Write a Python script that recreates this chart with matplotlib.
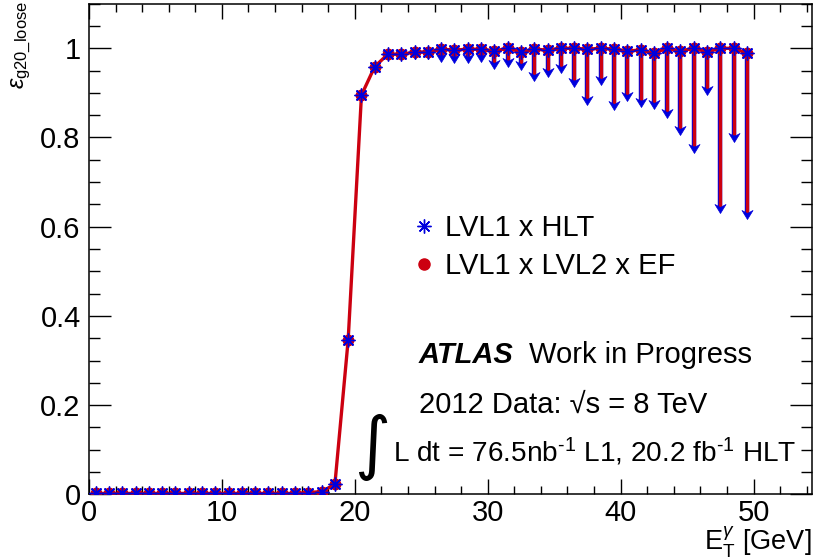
import matplotlib
matplotlib.use("Agg")
import matplotlib.pyplot as plt
from matplotlib.lines import Line2D
from matplotlib.path import Path
import numpy as np

# ---------------- data ----------------
et_bins = np.arange(0.5, 50.0, 1.0)  # bin centres (GeV)

eff_ef = [0.002, 0.002, 0.002, 0.002, 0.002, 0.002, 0.002, 0.002, 0.002, 0.002,
          0.002, 0.002, 0.002, 0.002, 0.002, 0.002, 0.004, 0.006, 0.022, 0.346,
          0.895, 0.959, 0.987, 0.987, 0.991, 0.992, 0.998, 0.996, 0.998, 0.998,
          0.994, 1.000, 0.992, 0.998, 0.996, 1.000, 1.000, 0.998, 1.000, 0.998,
          0.994, 0.996, 0.989, 1.000, 0.994, 1.000, 0.992, 1.000, 1.000, 0.989]
eff_hlt = list(eff_ef)

lower_end = [0.002, 0.002, 0.002, 0.002, 0.002, 0.002, 0.002, 0.002, 0.002, 0.002,
             0.002, 0.002, 0.002, 0.002, 0.002, 0.002, 0.004, 0.006, 0.022, 0.346,
             0.895, 0.959, 0.974, 0.975, 0.975, 0.975, 0.970, 0.966, 0.966, 0.970,
             0.953, 0.959, 0.951, 0.927, 0.935, 0.944, 0.914, 0.873, 0.918, 0.862,
             0.882, 0.869, 0.863, 0.844, 0.806, 0.766, 0.895, 0.631, 0.791, 0.617]

x_major = [0, 10, 20, 30, 40, 50]
y_major = [0, 0.2, 0.4, 0.6, 0.8, 1.0]
y_labels = ["0", "0.2", "0.4", "0.6", "0.8", "1"]

label_hlt = "LVL1 x HLT"
label_ef = "LVL1 x LVL2 x EF"

# ---------------- style ----------------
plt.rcParams['font.family'] = ['Liberation Sans', 'DejaVu Sans']
plt.rcParams['mathtext.fontset'] = 'custom'
plt.rcParams['mathtext.rm'] = 'Liberation Sans'
plt.rcParams['mathtext.it'] = 'Liberation Sans:italic'
plt.rcParams['mathtext.bf'] = 'Liberation Sans:bold'

RED = "#cc0010"
BLUE = "#0000dd"
FS = 21

fig = plt.figure(figsize=(8.17, 5.58), dpi=100)
W, H = 817, 558
ax = fig.add_axes([89 / W, (H - 494.3) / H, (812 - 89) / W, (494.3 - 3.7) / H])

x = np.asarray(et_bins)
yef = np.asarray(eff_ef)
yhlt = np.asarray(eff_hlt)
low = np.asarray(lower_end)
has_arrow = (yef - low) > 0.004

# arrow-head marker with the tip at the anchor point
head = Path([(-0.55, 0.9), (0.0, 0.6), (0.55, 0.9), (0.0, 0.0), (-0.55, 0.9)],
            [Path.MOVETO, Path.LINETO, Path.LINETO, Path.LINETO, Path.CLOSEPOLY])

# HLT series (blue) with arrows
ax.vlines(x[has_arrow], low[has_arrow] + 0.01, yhlt[has_arrow], color=BLUE, lw=3.2, zorder=2)
ax.plot(x[has_arrow], low[has_arrow], ls='none', marker=head, ms=13,
        color=BLUE, mec=BLUE, mew=0.5, zorder=5)
# EF series (red) line + error shafts
ax.plot(x, yef, color=RED, lw=2.4, zorder=3)
ax.vlines(x[has_arrow], low[has_arrow] + 0.014, yef[has_arrow], color=RED, lw=2.4, zorder=4)
ax.plot(x, yef, ls='none', marker='o', ms=7.5, color=RED, mec=RED, zorder=6)
ax.plot(x, yhlt, ls='none', marker=(8, 2, 0), ms=10, mew=1.0, color=BLUE, zorder=7)

ax.set_xlim(0, 54.4)
ax.set_ylim(0, 1.1)

ax.set_xticks(x_major)
ax.set_xticks(np.arange(0, 54.5, 2), minor=True)
ax.set_yticks(y_major)
ax.set_yticklabels(y_labels)
ax.set_yticks(np.arange(0, 1.1001, 0.05), minor=True)

ax.tick_params(axis='x', which='major', direction='in', length=10.5, width=1.0,
               top=True, labelsize=FS, pad=3.5)
ax.tick_params(axis='x', which='minor', direction='in', length=5.5, width=1.0, top=True)
ax.tick_params(axis='y', which='major', direction='in', length=15.5, width=1.0,
               right=True, labelsize=FS, pad=6)
ax.tick_params(axis='y', which='minor', direction='in', length=8, width=1.0, right=True)
for s in ax.spines.values():
    s.set_linewidth(1.1)

# axis titles
fig.text(812 / W, -1.5 / H, r'E$_{\rm T}^{\gamma}$ [GeV]', ha='right', va='bottom',
         fontsize=19.5)
fig.text(21 / W, 1 - 1 / H, r'$\epsilon_{\rm g20\_loose}$', rotation=90,
         ha='center', va='top', fontsize=17)

# legend
handles = [Line2D([], [], ls='none', marker=(8, 2, 0), ms=10, mew=1.0, color=BLUE),
           Line2D([], [], ls='none', marker='o', ms=8, color=RED)]
ax.legend(handles, [label_hlt, label_ef], loc='upper left',
          bbox_to_anchor=(411 / W, 1 - 214 / H), bbox_transform=fig.transFigure,
          frameon=False, fontsize=FS, handlelength=0.9, handletextpad=0.28,
          labelspacing=0.35, borderaxespad=0, borderpad=0)

# annotations
fig.text(419 / W, 1 - 363 / H, 'ATLAS', fontsize=FS, fontweight='bold',
         fontstyle='italic', ha='left', va='baseline')
fig.text(529 / W, 1 - 363 / H, 'Work in Progress', fontsize=FS,
         ha='left', va='baseline')
fig.text(419 / W, 1 - 413 / H, '2012 Data: \u221as = 8 TeV', fontsize=FS,
         ha='left', va='baseline')
fig.text(372 / W, 1 - 447 / H, '\u222b', fontsize=50, family='DejaVu Sans',
         ha='center', va='center')
fig.text(393 / W, 1 - 461.5 / H,
         r'L dt = 76.5nb$^{\text{-1}}$ L1, 20.2 fb$^{\text{-1}}$ HLT', fontsize=20.2,
         ha='left', va='baseline')

fig.savefig('out.png', dpi=100)
